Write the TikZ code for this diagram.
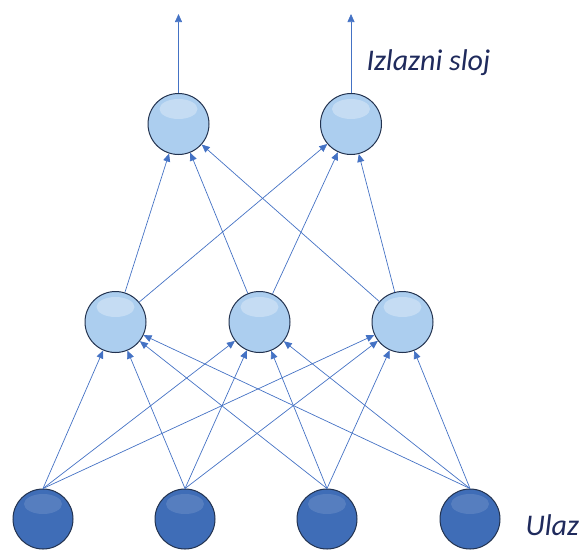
\documentclass[tikz,border=0pt]{standalone}
\usepackage{fontspec}
\setmainfont{Carlito}
\usetikzlibrary{arrows.meta}
\usetikzlibrary{calc}
\definecolor{linea}{HTML}{4472C4}
\definecolor{texto}{HTML}{1F2A5C}
\definecolor{claroa}{HTML}{ACCEEF}
\definecolor{clarob}{HTML}{85AEDA}
\definecolor{claroc}{HTML}{4F6E96}
\definecolor{oscuroa}{HTML}{3F6DB7}
\definecolor{oscurob}{HTML}{2E5597}
\definecolor{oscuroc}{HTML}{1D3461}
\definecolor{borde}{HTML}{22324F}
\pgfdeclareradialshading{bolaclara}{\pgfpoint{0bp}{0bp}}{color(0bp)=(claroa); color(34bp)=(claroa); color(45bp)=(clarob); color(50bp)=(claroc)}
\pgfdeclareradialshading{bolaoscura}{\pgfpoint{0bp}{0bp}}{color(0bp)=(oscuroa); color(34bp)=(oscuroa); color(45bp)=(oscurob); color(50bp)=(oscuroc)}
\tikzset{
	brillo/.style={path picture={\fill[white,opacity=#1] ($(path picture bounding box.center)+(0,-15)$) ellipse (19 and 10);}},
	oculta/.style={circle,minimum size=61pt,inner sep=0pt,shading=bolaclara,draw=borde,line width=1pt,brillo=0.3},
	entrada/.style={circle,minimum size=60pt,inner sep=0pt,shading=bolaoscura,draw=borde,line width=1pt,brillo=0.12},
	flecha/.style={color=linea,line width=0.7pt,-{Stealth[length=8pt,width=7pt,inset=0pt]}},
	rotulo/.style={color=texto,font=\fontsize{30}{36}\selectfont\itshape,anchor=west}
}
\begin{document}
\begin{tikzpicture}[x=1pt,y=-1pt]
			\useasboundingbox (0,0) rectangle (585,549);
			%capa de salida
			\node[oculta] (o1) at (178.5,124) {};
			\node[oculta] (o2) at (351,124) {};
			\coordinate (s1) at (178.5,14);
			\coordinate (s2) at (351,14);
			%capa oculta
			\node[oculta] (h1) at (115.5,322) {};
			\node[oculta] (h2) at (259.5,322) {};
			\node[oculta] (h3) at (402.5,322) {};
			%capa de entrada
			\node[entrada] (i1) at (43,519) {};
			\node[entrada] (i2) at (185,519) {};
			\node[entrada] (i3) at (327,519) {};
			\node[entrada] (i4) at (470,519) {};
			%textos
			\node[rotulo] (tsal) at (363,63) {Izlazni sloj};
			\node[rotulo] (tent) at (522,525) {Ulaz};
			%salidas
			\draw[flecha] (o1.north) -- (s1);
			\draw[flecha] (o2.north) -- (s2);
			%entrada a oculta
			\draw[flecha] (i1.north) -- (h1);
			\draw[flecha] (i1.north) -- (h2);
			\draw[flecha] (i1.north) -- (h3);
			\draw[flecha] (i2.north) -- (h1);
			\draw[flecha] (i2.north) -- (h2);
			\draw[flecha] (i2.north) -- (h3);
			\draw[flecha] (i3.north) -- (h1);
			\draw[flecha] (i3.north) -- (h2);
			\draw[flecha] (i3.north) -- (h3);
			\draw[flecha] (i4.north) -- (h1);
			\draw[flecha] (i4.north) -- (h2);
			\draw[flecha] (i4.north) -- (h3);
			%oculta a salida
			\draw[flecha] (h1) -- (o1);
			\draw[flecha] (h1) -- (o2);
			\draw[flecha] (h2) -- (o1);
			\draw[flecha] (h2) -- (o2);
			\draw[flecha] (h3) -- (o1);
			\draw[flecha] (h3) -- (o2);
		\end{tikzpicture}
\end{document}
